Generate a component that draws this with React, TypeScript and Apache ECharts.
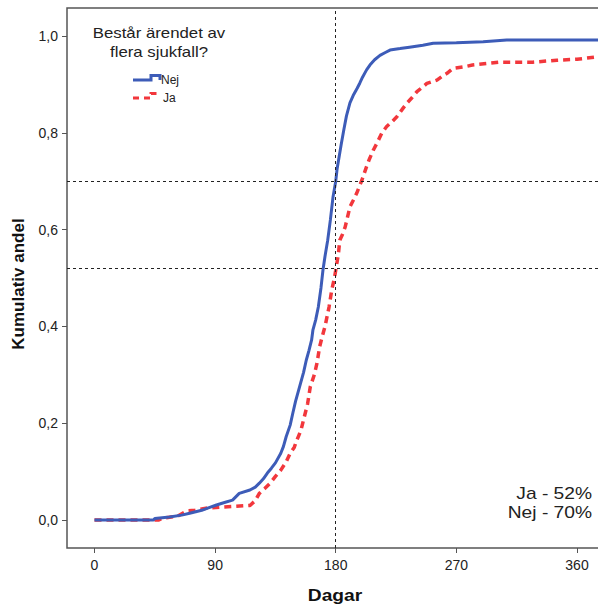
import React, { useEffect, useRef } from "react";
import * as echarts from "echarts";

const nejDays = [0, 44, 45, 56, 65, 71, 80, 86, 91, 97, 103, 108, 116, 120, 123, 126, 129, 132, 135, 139, 141, 143, 146, 148, 150, 153, 156, 158, 160, 162, 163, 165, 167, 169, 170.5, 172, 174, 176, 178, 180, 181, 182.5, 184, 186, 188, 190.6, 193, 196, 198, 200, 203, 205.5, 209, 213, 217, 220.5, 228, 235, 245, 252.7, 270, 290, 307.6, 400];
const nejValues = [0, 0, 0.003, 0.006, 0.01, 0.014, 0.02, 0.026, 0.031, 0.036, 0.041, 0.055, 0.062, 0.068, 0.076, 0.085, 0.097, 0.107, 0.118, 0.138, 0.152, 0.172, 0.196, 0.221, 0.245, 0.275, 0.305, 0.33, 0.35, 0.372, 0.393, 0.413, 0.44, 0.48, 0.517, 0.545, 0.578, 0.62, 0.668, 0.7, 0.725, 0.75, 0.775, 0.806, 0.835, 0.862, 0.877, 0.892, 0.903, 0.915, 0.93, 0.94, 0.951, 0.96, 0.966, 0.971, 0.974, 0.977, 0.981, 0.985, 0.986, 0.988, 0.992, 0.992];

const jaDays = [0, 48, 50, 62, 69, 75, 85, 116, 120, 123, 127, 131, 135, 139, 143, 146, 149, 151, 154, 156, 159, 161, 164, 166, 168, 170, 172, 175, 177, 179, 180, 182, 183, 185, 187, 190.6, 193, 195.6, 199.5, 203, 205, 208, 211, 214.5, 218, 222, 225.6, 230, 233, 237, 240.6, 245, 248, 255.5, 260, 263, 267.5, 275, 282, 302.5, 327, 345, 360, 375.6, 400];
const jaValues = [0, 0, 0.003, 0.008, 0.019, 0.02, 0.025, 0.03, 0.04, 0.055, 0.065, 0.076, 0.09, 0.103, 0.12, 0.138, 0.15, 0.165, 0.185, 0.207, 0.24, 0.275, 0.3, 0.324, 0.358, 0.38, 0.4, 0.44, 0.475, 0.5, 0.516, 0.55, 0.578, 0.59, 0.605, 0.647, 0.66, 0.675, 0.702, 0.73, 0.745, 0.764, 0.78, 0.8, 0.813, 0.823, 0.833, 0.85, 0.861, 0.873, 0.885, 0.895, 0.902, 0.909, 0.918, 0.923, 0.933, 0.936, 0.94, 0.946, 0.946, 0.95, 0.952, 0.957, 0.96];

const xTicks = [0, 90, 180, 270, 360];
const yTicks = [0, 0.2, 0.4, 0.6, 0.8, 1.0];
const refX = [180];
const refY = [0.7, 0.52];
const legendTitle = ["Består ärendet av", "flera sjukfall?"];
const seriesNames = ["Nej", "Ja"];
const annotations = ["Ja - 52%", "Nej - 70%"];

const FONT = "'Liberation Sans', Arial, sans-serif";
const BLUE = "#3D5CB8";
const RED = "#F2373C";
const SX = 1.2;

export default function App() {
  const ref = useRef<HTMLDivElement>(null);
  useEffect(() => {
    if (!ref.current) return;
    const chart = echarts.init(ref.current, null, { renderer: "svg" });
    const zip = (a: number[], b: number[]) => a.map((d, i) => [d, b[i]]);
    chart.setOption({
      animation: false,
      grid: {
        left: 67,
        top: 8,
        right: 20,
        bottom: 58,
        show: true,
        borderColor: "#555",
        borderWidth: 1.5,
        backgroundColor: "transparent",
      },
      xAxis: {
        type: "value",
        min: -20.52,
        max: 392.1,
        axisLine: { show: false, onZero: false },
        axisTick: { show: true, length: 5, lineStyle: { color: "#555" }, customValues: xTicks },
        axisLabel: { color: "#222", fontSize: 14, fontFamily: FONT, margin: 10, customValues: xTicks, formatter: (v: number) => String(v) },
        splitLine: { show: false },
      },
      yAxis: {
        type: "value",
        min: -0.0579,
        max: 1.0579,
        axisLine: { show: false, onZero: false },
        axisTick: { show: true, length: 5, lineStyle: { color: "#555" }, customValues: yTicks },
        axisLabel: {
          color: "#222",
          fontSize: 14,
          fontFamily: FONT,
          margin: 9,
          customValues: yTicks,
          formatter: (v: number) => v.toFixed(1).replace(".", ","),
        },
        splitLine: { show: false },
      },
      series: [
        {
          name: seriesNames[1],
          type: "line",
          showSymbol: false,
          symbol: "none",
          data: zip(jaDays, jaValues),
          lineStyle: { color: RED, width: 3.5, type: [7, 5] },
          z: 3,
        },
        {
          name: seriesNames[0],
          type: "line",
          showSymbol: false,
          symbol: "none",
          data: zip(nejDays, nejValues),
          lineStyle: { color: BLUE, width: 3 },
          z: 4,
          markLine: {
            silent: true,
            symbol: "none",
            label: { show: false },
            lineStyle: { color: "#222", width: 1, type: [3, 3] },
            data: [
              ...refX.map((v) => ({ xAxis: v })),
              ...refY.map((v) => ({ yAxis: v })),
            ],
          },
        },
      ],
      graphic: [
        {
          type: "text",
          x: 18,
          y: 284,
          rotation: Math.PI / 2,
          style: {
            text: "Kumulativ andel",
            font: `bold 17px ${FONT}`,
            fill: "#111",
            align: "center",
            verticalAlign: "middle",
          },
        },
        {
          type: "text",
          x: 335,
          y: 596,
          scaleX: SX,
          style: {
            text: "Dagar",
            font: `bold 16px ${FONT}`,
            fill: "#111",
            align: "center",
            verticalAlign: "middle",
          },
        },
        ...legendTitle.map((t, i) => ({
          type: "text",
          x: 159,
          y: 33 + i * 19,
          scaleX: SX,
          style: { text: t, font: `14px ${FONT}`, fill: "#222", align: "center", verticalAlign: "middle" },
        })),
        {
          type: "polyline",
          shape: { points: [[133, 80], [151, 80], [151, 75.5], [160, 75.5], [160, 80]] },
          style: { stroke: BLUE, lineWidth: 3, fill: null },
        },
        {
          type: "polyline",
          shape: { points: [[133, 98], [151, 98], [151, 93.5], [161, 93.5]] },
          style: { stroke: RED, lineWidth: 3, fill: null, lineDash: [6, 5] },
        },
        {
          type: "text",
          x: 161,
          y: 80,
          style: { text: seriesNames[0], font: `12px ${FONT}`, fill: "#222", align: "left", verticalAlign: "middle" },
        },
        {
          type: "text",
          x: 163,
          y: 98,
          style: { text: seriesNames[1], font: `12px ${FONT}`, fill: "#222", align: "left", verticalAlign: "middle" },
        },
        ...annotations.map((t, i) => ({
          type: "text",
          x: 592,
          y: 494 + i * 19,
          scaleX: SX,
          style: { text: t, font: `16px ${FONT}`, fill: "#222", align: "right", verticalAlign: "middle" },
        })),
      ],
    });
    return () => chart.dispose();
  }, []);
  return (
    <div style={{ position: "fixed", left: 0, top: 0, width: 598, height: 606, overflow: "hidden", background: "#fff" }}>
      <div ref={ref} style={{ width: 640, height: 606 }} />
    </div>
  );
}
